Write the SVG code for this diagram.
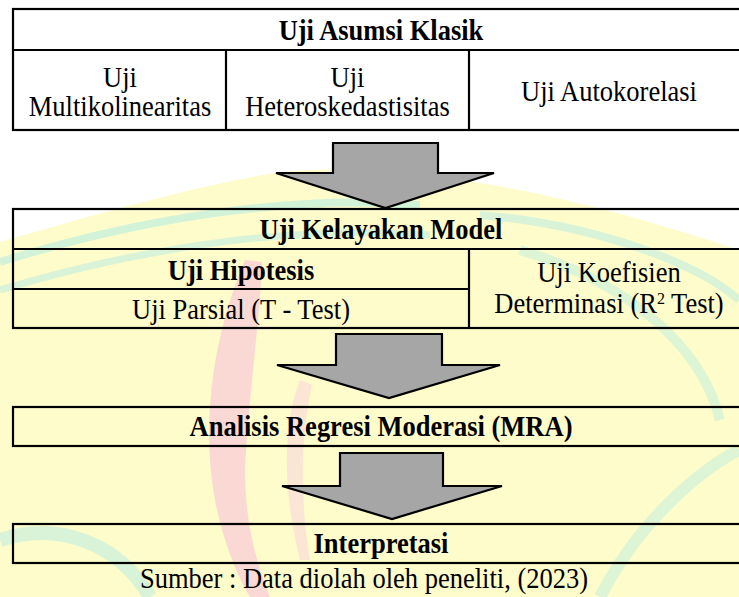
<svg xmlns="http://www.w3.org/2000/svg" width="739" height="597" viewBox="0 0 739 597">
<style>
.t{font-family:"Liberation Serif","Times New Roman",serif;font-size:26.5px;fill:#000;text-anchor:middle;transform-box:fill-box;transform-origin:center;transform:scaleY(1.08)}
.b{font-weight:bold}
.box{fill:none;stroke:#000;stroke-width:2.2}
.ln{stroke:#000;stroke-width:2.2}
.arr{fill:#a6a6a6;stroke:#000;stroke-width:2.2;stroke-linejoin:miter}
</style>
<g id="background">
<rect x="0" y="0" width="739" height="597" fill="#ffffff"/>
<path d="M0,242 C110,210 200,185 280,172 C400,160 560,190 739,250 L739,597 L0,597 Z" fill="#fefccb"/>
<path d="M0,262 C150,215 300,195 420,205" fill="none" stroke="#c8f0dc" stroke-width="8" opacity="0.8"/>
<path d="M0,290 C150,245 300,225 430,235" fill="none" stroke="#c8f0dc" stroke-width="7" opacity="0.7"/>
<path d="M480,215 C600,225 700,265 739,300" fill="none" stroke="#c8f0dc" stroke-width="8" opacity="0.7"/>
<path d="M520,250 C620,280 700,340 720,420" fill="none" stroke="#c8f0dc" stroke-width="10" opacity="0.6"/>
<path d="M0,540 C60,520 120,545 150,597" fill="none" stroke="#c8f0dc" stroke-width="14" opacity="0.7"/>
<path d="M600,597 C640,520 700,470 739,450" fill="none" stroke="#c8f0dc" stroke-width="12" opacity="0.6"/>
<path d="M245,260 C215,330 200,420 215,500 C225,550 240,580 250,597 L270,597 C255,560 245,520 245,470 C248,400 260,320 262,262 Z" fill="#f9cfd6" opacity="0.8"/>
<path d="M300,380 C280,430 285,500 300,560 L310,560 C300,500 300,440 312,385 Z" fill="#f9dcd8" opacity="0.7"/>
</g>
<g id="connectors">
<polygon class="arr" points="333,143 438,143 438,173 494,173 385.5,208 276,173 333,173"/>
<polygon class="arr" points="336,334 442,334 442,365 500,365 389,398 277,365 336,365"/>
<polygon class="arr" points="340,453 443,453 443,486 502,486 392,519 282,486 340,486"/>
</g>
<g id="uji-asumsi-klasik">
<rect class="box" x="13" y="9" width="740" height="121"/>
<line class="ln" x1="13" y1="50" x2="750" y2="50"/>
<line class="ln" x1="226" y1="50" x2="226" y2="130"/>
<line class="ln" x1="469" y1="50" x2="469" y2="130"/>
<text class="t b" x="381" y="39">Uji Asumsi Klasik</text>
<text class="t" x="120" y="86">Uji</text>
<text class="t" x="120" y="115">Multikolinearitas</text>
<text class="t" x="347.5" y="86">Uji</text>
<text class="t" x="347.5" y="115">Heteroskedastisitas</text>
<text class="t" x="609" y="100">Uji Autokorelasi</text>
</g>
<g id="uji-kelayakan-model">
<rect class="box" x="13" y="209" width="740" height="119"/>
<line class="ln" x1="13" y1="249" x2="750" y2="249"/>
<line class="ln" x1="13" y1="289" x2="469" y2="289"/>
<line class="ln" x1="469" y1="249" x2="469" y2="328"/>
<text class="t b" x="381" y="238">Uji Kelayakan Model</text>
<text class="t b" x="241" y="279">Uji Hipotesis</text>
<text class="t" x="241" y="318">Uji Parsial (T - Test)</text>
<text class="t" x="609" y="281">Uji Koefisien</text>
<text class="t" x="609" y="312">Determinasi (R<tspan font-size="16" dy="-8">2</tspan><tspan dy="8"> Test)</tspan></text>
</g>
<g id="analisis-mra">
<rect class="box" x="13" y="407" width="740" height="39"/>
<text class="t b" x="381" y="435">Analisis Regresi Moderasi (MRA)</text>
</g>
<g id="interpretasi">
<rect class="box" x="13" y="524" width="740" height="39"/>
<text class="t b" x="381" y="552">Interpretasi</text>
</g>
<g id="caption">
<text class="t" x="364" y="587">Sumber : Data diolah oleh peneliti, (2023)</text>
</g>
</svg>
